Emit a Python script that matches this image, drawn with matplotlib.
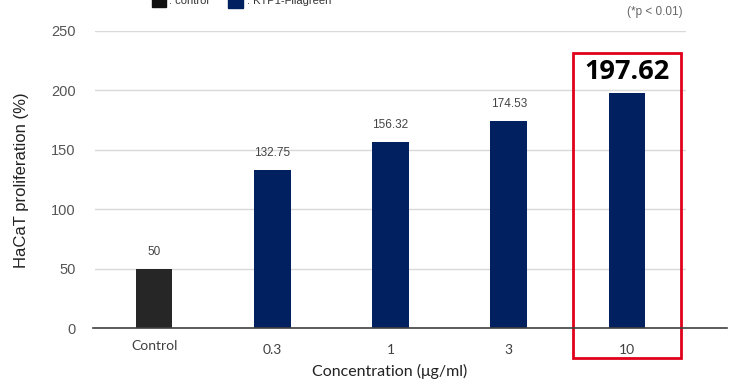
import matplotlib
matplotlib.use("Agg")
import matplotlib.pyplot as plt
from matplotlib.patches import Rectangle
from matplotlib.lines import Line2D

categories = ["Control", "0.3", "1", "3", "10"]
values = [50, 132.75, 156.32, 174.53, 197.62]
value_labels = ["50", "132.75", "156.32", "174.53", ""]
highlight_label = "197.62"
yticks = [0, 50, 100, 150, 200, 250]
colors = ["#262626", "#002060", "#002060", "#002060", "#002060"]

fig = plt.figure(figsize=(7.32, 3.82), dpi=100)
ax = fig.add_axes([95/732, 1 - 328/382, (686-95)/732, (328-31)/382])
x = list(range(len(categories)))
ax.bar(x, values, width=0.31, color=colors, zorder=3)
ax.set_xlim(-0.5, 4.5)
ax.set_ylim(0, 250)
ax.set_yticks(yticks)
ax.set_yticklabels([str(t) for t in yticks], fontsize=10.5, color="#555555",
                   family="Liberation Sans")
ax.tick_params(axis="y", length=0, pad=14)
ax.grid(axis="y", color="#d9d9d9", linewidth=1, zorder=0)
for s in ax.spines.values():
    s.set_visible(False)
ax.set_xticks(x)
ax.set_xticklabels([])
ax.tick_params(axis="x", length=0)

# x tick labels (Control sits slightly higher)
for i, c in enumerate(categories):
    dy = 18 if i == 0 else 22
    ax.annotate(c, (i, 0), xytext=(0, -dy), textcoords="offset pixels",
                ha="center", va="center", fontsize=10, color="#404040",
                family="Lato", annotation_clip=False)

for i, (v, lab) in enumerate(zip(values, value_labels)):
    if lab:
        ax.annotate(lab, (i, v), xytext=(0, 17), textcoords="offset pixels",
                    ha="center", va="center", fontsize=8.5, color="#444444",
                    family="Liberation Sans")

# highlighted value
ax.annotate(highlight_label, (4, values[4]), xytext=(0, 14), textcoords="offset pixels",
            ha="center", va="baseline", fontsize=19.5, fontweight="bold", color="black",
            family="Open Sans", annotation_clip=False)

# baseline extended
fig.add_artist(Line2D([93/732, 727/732], [1 - 328/382, 1 - 328/382],
                      color="#404040", linewidth=1.2))

# red highlight box
fig.add_artist(Rectangle((573/732, 1 - 358/382), (681-573)/732, (358-53)/382,
                         fill=False, edgecolor="#e0001b", linewidth=2))

fig.text(22/732, 1 - 180/382, "HaCaT proliferation (%)", rotation=90,
         ha="center", va="center", fontsize=12, color="#222222",
         family="Liberation Sans")
fig.text(390/732, 1 - 371/382, "Concentration (μg/ml)", ha="center", va="center",
         fontsize=11.5, color="#222222", family="Lato")

fig.text(655/732, 1 - 12/382, "(*p < 0.01)", ha="center", va="center",
         fontsize=8.5, color="#666666", family="Liberation Sans")

# legend (cut off at top, as in the reference)
fig.add_artist(Rectangle((152/732, 1 - 7/382), 14/732, 10/382, color="#111111"))
fig.text(169/732, 1 - 1/382, ": control", ha="left", va="center",
         fontsize=8, color="#333333", family="Liberation Sans")
fig.add_artist(Rectangle((228/732, 1 - 8/382), 15/732, 11/382, color="#002060"))
fig.text(247/732, 1 - 1/382, ": KTP1-Filagreen", ha="left", va="center",
         fontsize=8, color="#333333", family="Liberation Sans")

fig.savefig("out.png", dpi=100)
